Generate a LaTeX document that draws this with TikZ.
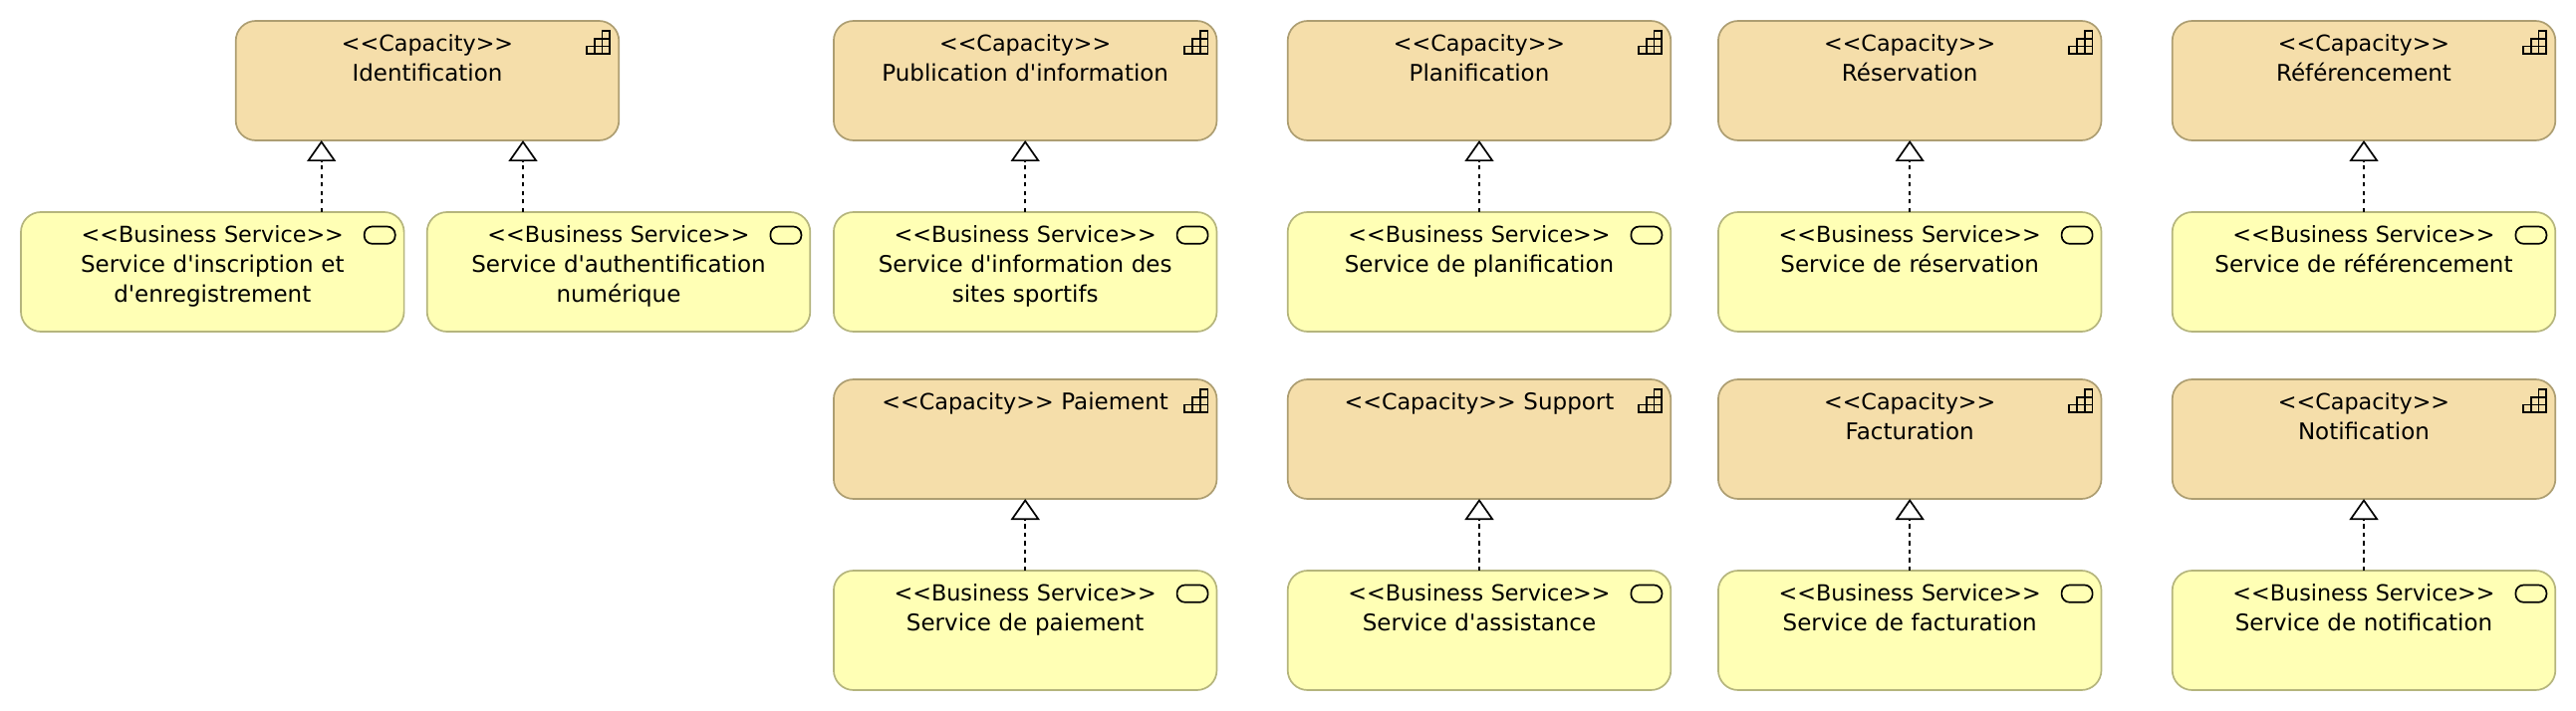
\documentclass[tikz,border=0pt]{standalone}
\usepackage{fontspec}
\usepackage{xcolor}
\usepackage{tikz}
\usetikzlibrary{arrows.meta, positioning}
\newfontfamily\boxfont{DejaVu Sans}
\newcommand{\stereo}[1]{{\fontsize{22.3}{30}\selectfont<<#1>>}}
\definecolor{capfill}{HTML}{F5DEAA}
\definecolor{capline}{HTML}{AD9E72}
\definecolor{svcfill}{HTML}{FFFFB5}
\definecolor{svcline}{HTML}{B5B57D}

\begin{document}
\begin{tikzpicture}[x=1pt,y=1pt]
	\tikzstyle{archibox} = [rectangle, rounded corners=20pt, line width=1.7pt, inner sep=0pt, outer sep=0pt, text width=384.6pt, align=center, text height=30.5pt, text depth=89.5pt, font=\boxfont\fontsize{23}{30}\selectfont]
	\tikzstyle{capacity} = [archibox, draw=capline, fill=capfill]
	\tikzstyle{service} = [archibox, draw=svcline, fill=svcfill]
	\tikzstyle{realize} = [line width=1.7pt, dash pattern=on 4.25pt off 4.25pt, -{Triangle[open, fill=white, length=21pt, width=29pt]}]
	\tikzset{
		capicon/.pic={
			\draw [line width=1.7pt] (-23.2,-23.2) rectangle (0,-15.47);
			\draw [line width=1.7pt] (-15.47,-23.2) -- (-15.47,-7.73) -- (0,-7.73) -- (0,0) -- (-7.73,0) -- (-7.73,-23.2);
			\draw [line width=1.7pt] (0,-7.73) -- (0,-15.47);
		},
		svcicon/.pic={
			\draw [line width=1.7pt, rounded corners=8pt] (-31,-17.3) rectangle (0,0);
		}
	}

	\useasboundingbox (0,0) rectangle (2586,-714);

	% top row
	\node (idenCap) [capacity] at (429,-81) {\stereo{Capacity}\\Identification\hspace*{8pt}};
	\node (infoCap) [capacity, right=215.6pt of idenCap] {\stereo{Capacity}\\Publication d'information};
	\node (planCap) [capacity, right=71.2pt of infoCap] {\stereo{Capacity}\\Planification};
	\node (resaCap) [capacity, right=47.6pt of planCap] {\stereo{Capacity}\\Réservation};
	\node (refeCap) [capacity, right=71.2pt of resaCap] {\stereo{Capacity}\\Référencement};

	\node (inscSvc) [service, below=72pt of idenCap, xshift=-215.7pt] {\stereo{Business Service}\\Service d'inscription et\\d'enregistrement};
	\node (authSvc) [service, right=23.1pt of inscSvc] {\stereo{Business Service}\\Service d'authentification\\numérique};
	\node (infoSvc) [service, below=72pt of infoCap] {\stereo{Business Service}\\Service d'information des\\sites sportifs};
	\node (planSvc) [service, below=72pt of planCap] {\stereo{Business Service}\\Service de planification};
	\node (resaSvc) [service, below=72pt of resaCap] {\stereo{Business Service}\\Service de réservation};
	\node (refeSvc) [service, below=72pt of refeCap] {\stereo{Business Service}\\Service de référencement};

	% bottom row
	\node (paieCap) [capacity, below=48pt of infoSvc] {\stereo{Capacity} Paiement};
	\node (suppCap) [capacity, below=48pt of planSvc] {\stereo{Capacity} Support};
	\node (factCap) [capacity, below=48pt of resaSvc] {\stereo{Capacity}\\Facturation};
	\node (notiCap) [capacity, below=48pt of refeSvc] {\stereo{Capacity}\\Notification};

	\node (paieSvc) [service, below=72pt of paieCap] {\stereo{Business Service}\\Service de paiement};
	\node (suppSvc) [service, below=72pt of suppCap] {\stereo{Business Service}\\Service d'assistance};
	\node (factSvc) [service, below=72pt of factCap] {\stereo{Business Service}\\Service de facturation};
	\node (notiSvc) [service, below=72pt of notiCap] {\stereo{Business Service}\\Service de notification};

	\foreach \boxname in {idenCap, infoCap, planCap, resaCap, refeCap, paieCap, suppCap, factCap, notiCap}
		\pic at ([xshift=-9.1pt, yshift=-10pt]\boxname.north east) {capicon};
	\foreach \boxname in {inscSvc, authSvc, infoSvc, planSvc, resaSvc, refeSvc, paieSvc, suppSvc, factSvc, notiSvc}
		\pic at ([xshift=-8.9pt, yshift=-14.5pt]\boxname.north east) {svcicon};

	\draw [realize] ([xshift=109.4pt]inscSvc.north) -- ([xshift=-106.3pt]idenCap.south);
	\draw [realize] ([xshift=-96pt]authSvc.north) -- ([xshift=96pt]idenCap.south);
	\draw [realize] (infoSvc) -- (infoCap);
	\draw [realize] (planSvc) -- (planCap);
	\draw [realize] (resaSvc) -- (resaCap);
	\draw [realize] (refeSvc) -- (refeCap);
	\draw [realize] (paieSvc) -- (paieCap);
	\draw [realize] (suppSvc) -- (suppCap);
	\draw [realize] (factSvc) -- (factCap);
	\draw [realize] (notiSvc) -- (notiCap);
\end{tikzpicture}
\end{document}
